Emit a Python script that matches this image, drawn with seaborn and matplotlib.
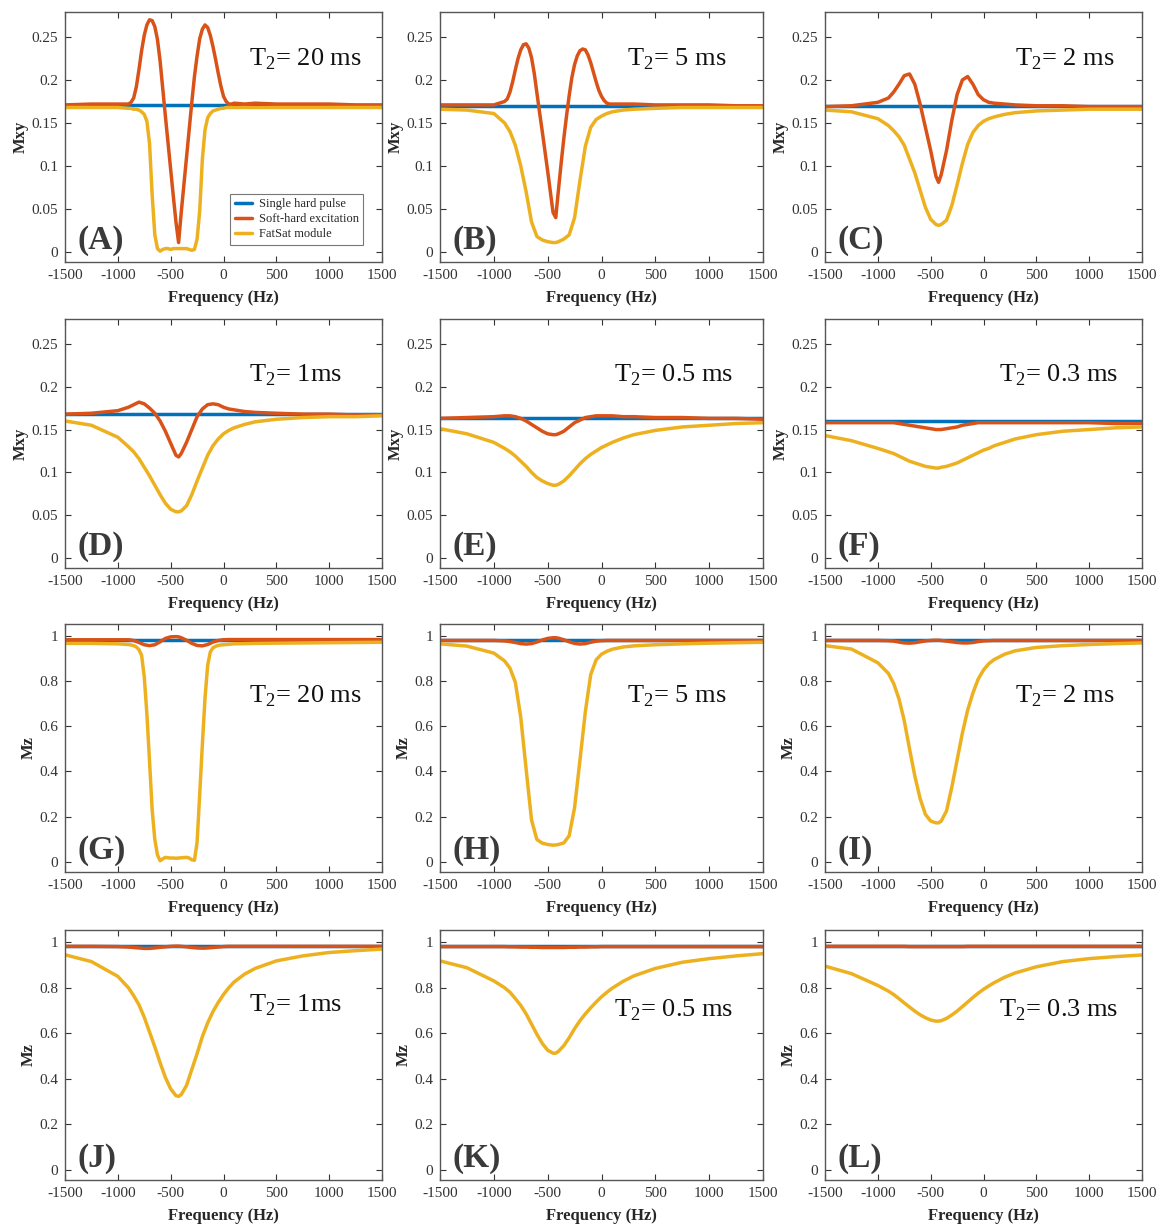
import matplotlib

matplotlib.use("Agg")
import matplotlib.pyplot as plt
import seaborn as sns

FREQ = [-1500, -1250, -1000, -900, -850, -800, -750, -700, -650, -600, -550,
        -500, -450, -425, -400, -350, -300, -250, -200, -150, -100, -50, 0,
        50, 100, 200, 300, 500, 750, 1000, 1250, 1500]
# denser reading for the sharp long-T2 profiles
FREQ_FINE = [-1500, -1250, -1000,
             -900, -875, -850, -825, -800, -775, -750, -725, -700, -675, -650,
             -625, -600, -575, -550, -525, -500, -475, -450, -425, -400, -375,
             -350, -325, -300, -275, -250, -225, -200, -175, -150, -125, -100,
             -75, -50, -25, 0, 25, 50, 75, 100,
             200, 300, 500, 750, 1000, 1250, 1500]
FREQ_HARD = [-1500, -750, 0, 750, 1500]

PANEL_LETTERS = ["A", "B", "C", "D", "E", "F", "G", "H", "I", "J", "K", "L"]
T2_LABELS = ["20 ms", "5 ms", "2 ms", "1ms", "0.5 ms", "0.3 ms",
             "20 ms", "5 ms", "2 ms", "1ms", "0.5 ms", "0.3 ms"]
SERIES_NAMES = ["Single hard pulse", "Soft-hard excitation", "FatSat module"]

# ---- Mxy, single hard pulse ----
HARD_A = [0.171, 0.171, 0.171, 0.171, 0.171]
HARD_B = [0.170, 0.170, 0.170, 0.170, 0.170]
HARD_C = [0.170, 0.170, 0.170, 0.170, 0.170]
HARD_D = [0.168, 0.168, 0.168, 0.168, 0.168]
HARD_E = [0.164, 0.164, 0.164, 0.164, 0.164]
HARD_F = [0.160, 0.160, 0.160, 0.160, 0.160]
# ---- Mz, single hard pulse ----
HARD_G = [0.985, 0.985, 0.985, 0.985, 0.985]
HARD_H = [0.984, 0.984, 0.984, 0.984, 0.984]
HARD_I = [0.984, 0.984, 0.984, 0.984, 0.984]
HARD_J = [0.984, 0.984, 0.984, 0.984, 0.984]
HARD_K = [0.983, 0.983, 0.983, 0.983, 0.983]
HARD_L = [0.984, 0.984, 0.984, 0.984, 0.984]

# ---- Mxy, soft-hard excitation ----
SOFT_A = [0.171, 0.172, 0.172,
          0.172, 0.174, 0.179, 0.192, 0.212, 0.234, 0.252, 0.264, 0.270, 0.269, 0.262,
          0.247, 0.222, 0.190, 0.158, 0.127, 0.096, 0.065, 0.035, 0.011, 0.046, 0.078,
          0.110, 0.142, 0.174, 0.204, 0.228, 0.248, 0.259, 0.264, 0.261, 0.252, 0.239,
          0.224, 0.208, 0.193, 0.181, 0.175, 0.172, 0.172, 0.173,
          0.172, 0.173, 0.172, 0.172, 0.172, 0.171, 0.171]
SOFT_B = [0.171, 0.171, 0.171,
          0.175, 0.178, 0.186, 0.198, 0.212, 0.225, 0.235, 0.241, 0.242, 0.237, 0.226,
          0.208, 0.185, 0.162, 0.140, 0.117, 0.094, 0.070, 0.046, 0.040, 0.072, 0.103,
          0.132, 0.158, 0.182, 0.203, 0.218, 0.228, 0.234, 0.236, 0.235, 0.229, 0.220,
          0.209, 0.198, 0.188, 0.181, 0.176, 0.173, 0.172, 0.172,
          0.172, 0.172, 0.171, 0.171, 0.171, 0.170, 0.170]
SOFT_C = [0.169, 0.170, 0.174, 0.179, 0.186, 0.195, 0.205, 0.207, 0.195, 0.172, 0.145,
          0.118, 0.088, 0.081, 0.090, 0.118, 0.153, 0.183, 0.200, 0.204, 0.195, 0.183, 0.177,
          0.174, 0.173, 0.172, 0.171, 0.170, 0.170, 0.169, 0.169, 0.169]
SOFT_D = [0.168, 0.169, 0.172, 0.176, 0.179, 0.182, 0.180, 0.175, 0.169, 0.160, 0.148,
          0.134, 0.120, 0.118, 0.122, 0.135, 0.150, 0.165, 0.174, 0.179, 0.180, 0.179, 0.176,
          0.174, 0.173, 0.171, 0.170, 0.169, 0.168, 0.168, 0.167, 0.167]
SOFT_E = [0.163, 0.164, 0.165, 0.166, 0.166, 0.165, 0.163, 0.160, 0.156, 0.152, 0.148,
          0.145, 0.144, 0.144, 0.145, 0.148, 0.153, 0.158, 0.161, 0.164, 0.165, 0.166, 0.166,
          0.166, 0.166, 0.165, 0.165, 0.164, 0.164, 0.163, 0.163, 0.162]
SOFT_F = [0.158, 0.158, 0.158, 0.158, 0.158, 0.157, 0.156, 0.155, 0.154, 0.153, 0.152,
          0.151, 0.150, 0.150, 0.150, 0.151, 0.152, 0.153, 0.155, 0.156, 0.157, 0.158, 0.158,
          0.158, 0.158, 0.158, 0.158, 0.158, 0.158, 0.158, 0.157, 0.157]
# ---- Mz, soft-hard excitation ----
SOFT_G = [0.984, 0.984, 0.984, 0.984, 0.981, 0.972, 0.962, 0.958, 0.962, 0.975, 0.990,
          0.997, 0.998, 0.997, 0.993, 0.982, 0.968, 0.959, 0.957, 0.963, 0.974, 0.981, 0.984,
          0.985, 0.985, 0.985, 0.985, 0.985, 0.985, 0.985, 0.985, 0.985]
SOFT_H = [0.981, 0.981, 0.981, 0.979, 0.976, 0.972, 0.967, 0.965, 0.967, 0.974, 0.983,
          0.990, 0.993, 0.993, 0.991, 0.984, 0.975, 0.968, 0.965, 0.967, 0.973, 0.978, 0.980,
          0.981, 0.981, 0.981, 0.981, 0.981, 0.981, 0.981, 0.981, 0.981]
SOFT_I = [0.981, 0.981, 0.981, 0.980, 0.978, 0.974, 0.970, 0.969, 0.971, 0.975, 0.979,
          0.981, 0.982, 0.982, 0.981, 0.978, 0.975, 0.972, 0.970, 0.970, 0.972, 0.976, 0.979,
          0.980, 0.981, 0.981, 0.981, 0.981, 0.981, 0.981, 0.981, 0.981]
SOFT_J = [0.982, 0.982, 0.981, 0.979, 0.977, 0.975, 0.973, 0.973, 0.975, 0.978, 0.980,
          0.982, 0.983, 0.983, 0.982, 0.980, 0.977, 0.975, 0.974, 0.975, 0.977, 0.979, 0.981,
          0.982, 0.982, 0.982, 0.982, 0.982, 0.982, 0.982, 0.982, 0.982]
SOFT_K = [0.981, 0.981, 0.981, 0.981, 0.980, 0.980, 0.979, 0.979, 0.978, 0.978, 0.977,
          0.977, 0.977, 0.977, 0.977, 0.977, 0.978, 0.978, 0.979, 0.979, 0.980, 0.980, 0.981,
          0.981, 0.981, 0.981, 0.981, 0.981, 0.981, 0.981, 0.981, 0.981]
SOFT_L = [0.982, 0.982, 0.982, 0.982, 0.982, 0.982, 0.982, 0.981, 0.981, 0.981, 0.981,
          0.981, 0.981, 0.981, 0.981, 0.981, 0.981, 0.981, 0.981, 0.982, 0.982, 0.982, 0.982,
          0.982, 0.982, 0.982, 0.982, 0.982, 0.982, 0.982, 0.982, 0.982]

# ---- Mxy, FatSat module ----
FAT_A = [0.168, 0.168, 0.168,
         0.167, 0.167, 0.166, 0.166, 0.165, 0.163, 0.160, 0.152, 0.126, 0.066, 0.020,
         0.004, 0.001, 0.003, 0.004, 0.004, 0.003, 0.004, 0.004, 0.004, 0.004, 0.004,
         0.004, 0.003, 0.002, 0.003, 0.015, 0.048, 0.108, 0.142, 0.156, 0.161, 0.164,
         0.165, 0.166, 0.167, 0.167, 0.168, 0.168, 0.168, 0.168,
         0.168, 0.168, 0.168, 0.168, 0.168, 0.168, 0.168]
FAT_B = [0.166, 0.165, 0.161, 0.150, 0.140, 0.124, 0.100, 0.070, 0.035, 0.018, 0.014,
         0.012, 0.011, 0.011, 0.012, 0.015, 0.020, 0.040, 0.083, 0.123, 0.145, 0.154, 0.158,
         0.161, 0.163, 0.165, 0.166, 0.167, 0.168, 0.168, 0.168, 0.168]
FAT_C = [0.165, 0.163, 0.155, 0.147, 0.141, 0.134, 0.124, 0.108, 0.092, 0.072, 0.052,
         0.038, 0.032, 0.031, 0.032, 0.037, 0.054, 0.078, 0.103, 0.125, 0.139, 0.147, 0.152,
         0.155, 0.157, 0.160, 0.162, 0.164, 0.165, 0.166, 0.166, 0.166]
FAT_D = [0.160, 0.155, 0.141, 0.130, 0.124, 0.116, 0.106, 0.096, 0.085, 0.074, 0.064,
         0.057, 0.054, 0.054, 0.055, 0.061, 0.074, 0.090, 0.105, 0.120, 0.131, 0.139, 0.145,
         0.149, 0.152, 0.156, 0.159, 0.162, 0.164, 0.165, 0.165, 0.166]
FAT_E = [0.151, 0.145, 0.135, 0.128, 0.124, 0.119, 0.113, 0.107, 0.100, 0.094, 0.090,
         0.087, 0.085, 0.085, 0.086, 0.090, 0.096, 0.103, 0.110, 0.116, 0.121, 0.125, 0.129,
         0.132, 0.135, 0.140, 0.144, 0.149, 0.153, 0.155, 0.157, 0.158]
FAT_F = [0.143, 0.137, 0.128, 0.124, 0.122, 0.119, 0.116, 0.113, 0.111, 0.109, 0.107,
         0.106, 0.105, 0.105, 0.106, 0.107, 0.109, 0.111, 0.114, 0.117, 0.120, 0.123, 0.126,
         0.128, 0.131, 0.135, 0.139, 0.144, 0.148, 0.150, 0.152, 0.153]
# ---- Mz, FatSat module ----
FAT_G = [0.968, 0.968, 0.966,
         0.963, 0.961, 0.958, 0.952, 0.940, 0.915, 0.820, 0.655, 0.445, 0.229, 0.098,
         0.030, 0.004, 0.012, 0.019, 0.017, 0.016, 0.016, 0.015, 0.016, 0.017, 0.018,
         0.019, 0.016, 0.008, 0.006, 0.085, 0.300, 0.520, 0.725, 0.870, 0.930, 0.948,
         0.955, 0.959, 0.961, 0.962, 0.963, 0.964, 0.965, 0.966,
         0.967, 0.968, 0.969, 0.970, 0.971, 0.972, 0.973]
FAT_H = [0.966, 0.956, 0.925, 0.890, 0.858, 0.795, 0.640, 0.410, 0.185, 0.098, 0.082,
         0.076, 0.073, 0.074, 0.076, 0.083, 0.115, 0.240, 0.450, 0.665, 0.830, 0.895, 0.920,
         0.933, 0.942, 0.952, 0.957, 0.962, 0.966, 0.969, 0.971, 0.973]
FAT_I = [0.958, 0.943, 0.882, 0.835, 0.790, 0.722, 0.625, 0.500, 0.380, 0.280, 0.210,
         0.180, 0.172, 0.172, 0.180, 0.225, 0.330, 0.450, 0.570, 0.672, 0.748, 0.810, 0.850,
         0.878, 0.896, 0.920, 0.935, 0.950, 0.958, 0.963, 0.967, 0.970]
FAT_J = [0.945, 0.915, 0.850, 0.800, 0.765, 0.725, 0.670, 0.605, 0.540, 0.470, 0.405,
         0.355, 0.325, 0.322, 0.330, 0.370, 0.440, 0.510, 0.585, 0.645, 0.695, 0.735, 0.770,
         0.800, 0.825, 0.860, 0.885, 0.918, 0.940, 0.955, 0.963, 0.970]
FAT_K = [0.918, 0.888, 0.830, 0.800, 0.780, 0.752, 0.722, 0.685, 0.640, 0.595, 0.555,
         0.525, 0.512, 0.512, 0.520, 0.545, 0.580, 0.620, 0.655, 0.685, 0.712, 0.737, 0.760,
         0.780, 0.798, 0.828, 0.852, 0.885, 0.912, 0.928, 0.940, 0.950]
FAT_L = [0.895, 0.862, 0.810, 0.785, 0.770, 0.752, 0.733, 0.715, 0.697, 0.681, 0.668,
         0.658, 0.653, 0.653, 0.655, 0.665, 0.680, 0.697, 0.717, 0.737, 0.757, 0.776, 0.793,
         0.808, 0.822, 0.846, 0.865, 0.892, 0.915, 0.928, 0.937, 0.944]

HARD = [HARD_A, HARD_B, HARD_C, HARD_D, HARD_E, HARD_F,
        HARD_G, HARD_H, HARD_I, HARD_J, HARD_K, HARD_L]
SOFT = [SOFT_A, SOFT_B, SOFT_C, SOFT_D, SOFT_E, SOFT_F,
        SOFT_G, SOFT_H, SOFT_I, SOFT_J, SOFT_K, SOFT_L]
FAT = [FAT_A, FAT_B, FAT_C, FAT_D, FAT_E, FAT_F,
       FAT_G, FAT_H, FAT_I, FAT_J, FAT_K, FAT_L]
SOFT_X = [FREQ_FINE, FREQ_FINE] + [FREQ] * 10
FAT_X = [FREQ_FINE] + [FREQ] * 5 + [FREQ_FINE] + [FREQ] * 5

COLORS = ["#0072BD", "#D95319", "#EDB120"]
FONT = ["Liberation Serif", "DejaVu Serif"]

sns.set_theme(style="ticks")
plt.rcParams["font.family"] = FONT
plt.rcParams["mathtext.fontset"] = "custom"
plt.rcParams["mathtext.rm"] = "Liberation Serif"
plt.rcParams["axes.unicode_minus"] = False

W, H = 1168, 1230
fig = plt.figure(figsize=(W / 100, H / 100), dpi=100)
fig.patch.set_facecolor("white")

col_left = [65, 440, 825]
col_width = [317, 323, 317]
row_top = [12, 319, 624, 930]
row_bottom = [262, 568, 872, 1180]
t2_x = [0.58, 0.58, 0.60, 0.58, 0.54, 0.55]
t2_y = [0.81, 0.81, 0.81, 0.775, 0.775, 0.775, 0.71, 0.71, 0.71, 0.70, 0.68, 0.68]

for i, letter in enumerate(PANEL_LETTERS):
    r, c = divmod(i, 3)
    top = row_top[r]
    ax = fig.add_axes([col_left[c] / W, 1 - row_bottom[r] / H,
                       col_width[c] / W, (row_bottom[r] - top) / H])

    sns.lineplot(x=FREQ_HARD, y=HARD[i], color=COLORS[0], lw=2.5, ax=ax,
                 label=SERIES_NAMES[0])
    sns.lineplot(x=SOFT_X[i], y=SOFT[i], color=COLORS[1], lw=2.5, ax=ax,
                 label=SERIES_NAMES[1])
    sns.lineplot(x=FAT_X[i], y=FAT[i], color=COLORS[2], lw=2.5, ax=ax,
                 label=SERIES_NAMES[2])

    ax.set_xlim(-1500, 1500)
    ax.set_xticks([-1500, -1000, -500, 0, 500, 1000, 1500])
    if r < 2:
        ax.set_ylim(-0.0116, 0.279)
        ax.set_yticks([0, 0.05, 0.1, 0.15, 0.2, 0.25])
        ax.set_yticklabels(["0", "0.05", "0.1", "0.15", "0.2", "0.25"])
        ax.set_ylabel("Mxy", fontsize=12, fontweight="bold", labelpad=2)
    else:
        ax.set_ylim(-0.046, 1.054)
        ax.set_yticks([0, 0.2, 0.4, 0.6, 0.8, 1.0])
        ax.set_yticklabels(["0", "0.2", "0.4", "0.6", "0.8", "1"])
        ax.set_ylabel("Mz", fontsize=12, fontweight="bold", labelpad=2)
    ax.set_xlabel("Frequency (Hz)", fontsize=12, fontweight="bold", labelpad=6)

    ax.tick_params(direction="in", top=True, right=True, length=4, width=0.8,
                   colors="#333333", labelsize=11, pad=5)
    for side in ["top", "bottom", "left", "right"]:
        ax.spines[side].set_visible(True)
        ax.spines[side].set_color("#555555")
        ax.spines[side].set_linewidth(1.0)

    ax.text(t2_x[c + 3 * (r % 2)], t2_y[i], r"T$_\mathrm{2}$= " + T2_LABELS[i],
            transform=ax.transAxes, fontsize=19, ha="left", va="center",
            color="#111111")
    ax.text(0.04, 0.025, f"({letter})", transform=ax.transAxes, fontsize=24,
            fontweight="bold", ha="left", va="bottom", color="#3a3a3a")

    if i == 0:
        leg = ax.legend(loc="lower right", bbox_to_anchor=(0.94, 0.07),
                        fontsize=9, frameon=True, fancybox=False,
                        handlelength=1.4, handletextpad=0.5, borderpad=0.35,
                        labelspacing=0.25, borderaxespad=0)
        leg.get_frame().set_edgecolor("#555555")
        leg.get_frame().set_linewidth(0.8)
    else:
        ax.get_legend().remove()

fig.savefig("out.png", dpi=100, facecolor="white")
